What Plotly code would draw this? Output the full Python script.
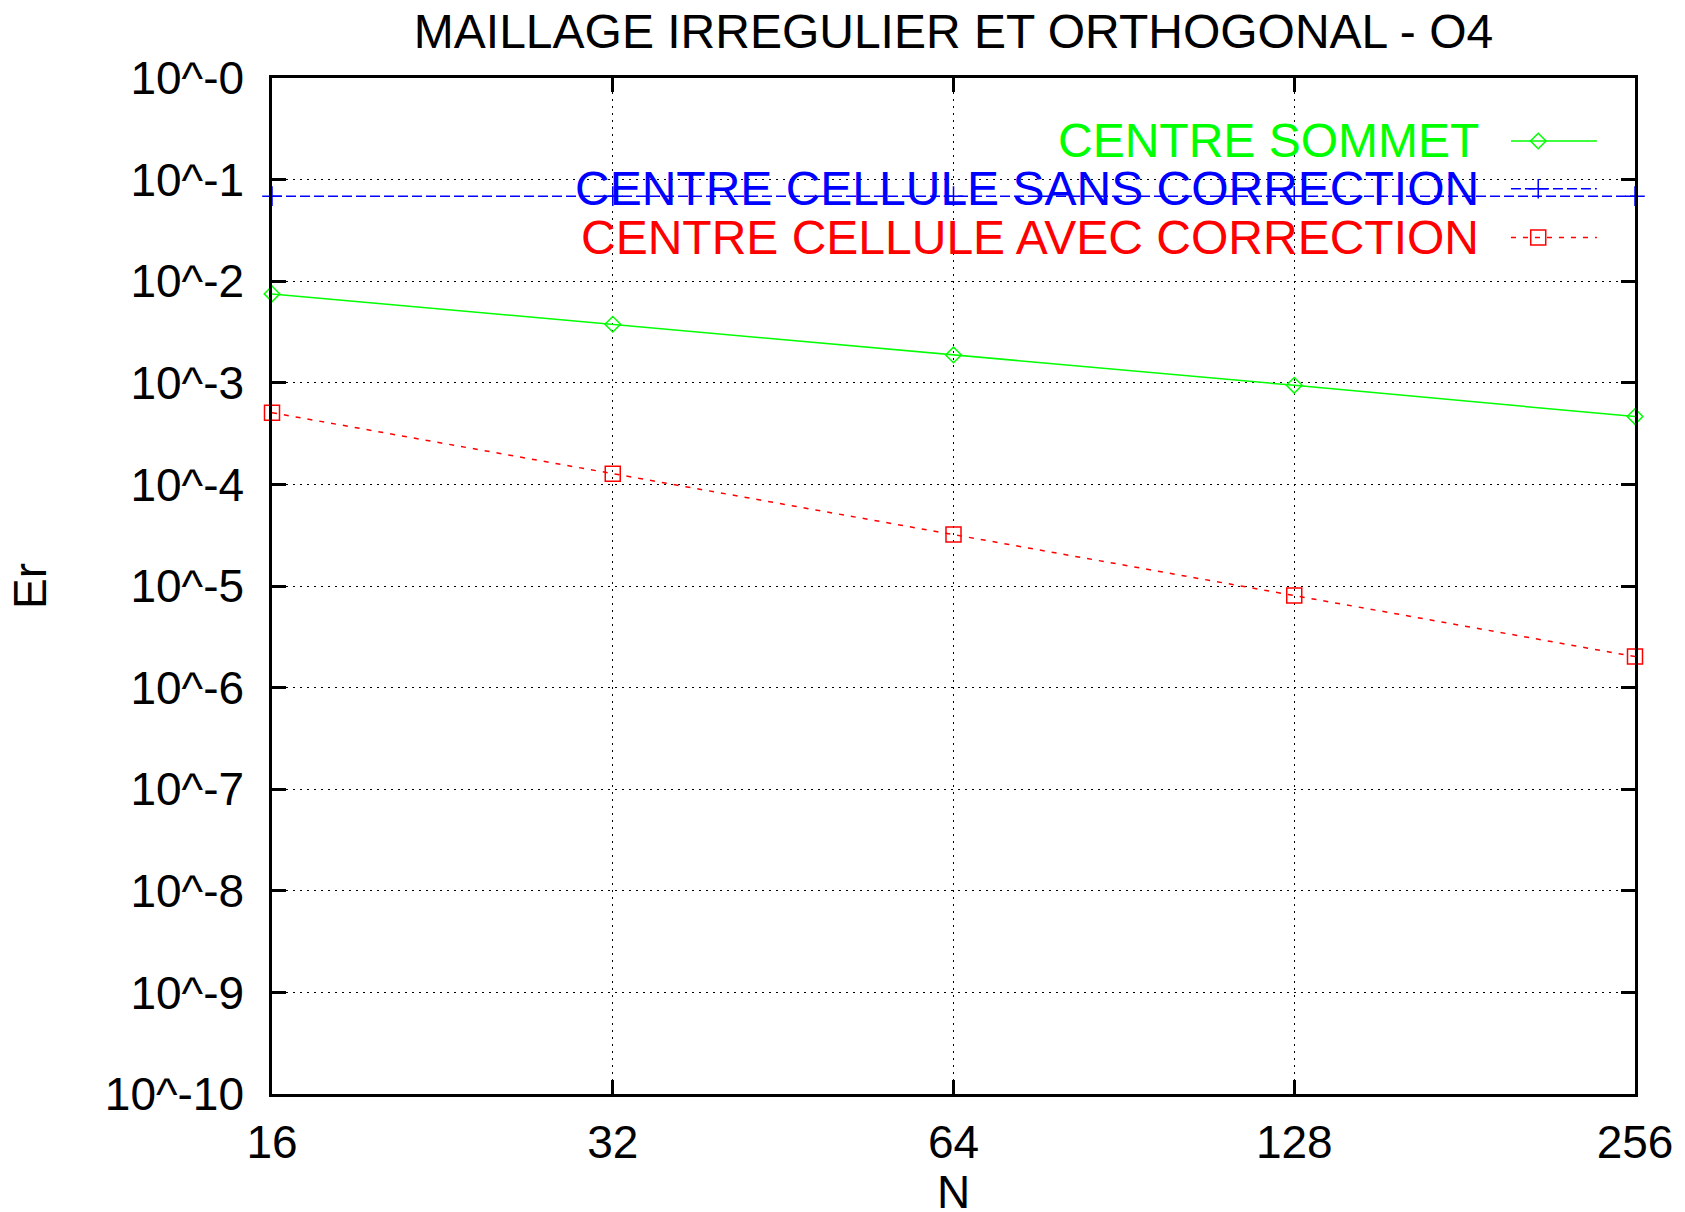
"""Convergence plot: error vs mesh size (irregular orthogonal mesh, O4)."""

import math

import plotly.graph_objects as go

# Data
n_values = [16, 32, 64, 128, 256]
err_centre_sommet = [0.0075, 0.00377, 0.00188, 0.000944, 0.000465]
err_cellule_sans = [0.0687, 0.0687, 0.0687, 0.0687, 0.0687]
err_cellule_avec = [0.000508, 0.000127, 3.21e-5, 8.05e-6, 2.02e-6]

y_tickvals = [10.0 ** -k for k in range(0, 11)]
y_ticktext = [f"10^-{k}" for k in range(0, 11)]
x_tickvals = n_values
x_ticktext = [str(n) for n in n_values]

labels = [
    "CENTRE SOMMET",
    "CENTRE CELLULE SANS CORRECTION",
    "CENTRE CELLULE AVEC CORRECTION",
]
colors = ["#00ff00", "#0000ff", "#ff0000"]
dashes = ["solid", "10px,4px", "5px,7px"]
symbols = ["diamond-open", "cross-thin-open", "square-open"]
marker_sizes = [12, 14, 15]

FONT = "Liberation Sans, Arial, sans-serif"

fig = go.Figure()

series = [err_centre_sommet, err_cellule_sans, err_cellule_avec]
for vals, color, dash, sym, msize in zip(series, colors, dashes, symbols, marker_sizes):
    fig.add_trace(go.Scatter(
        x=n_values,
        y=vals,
        mode="lines+markers",
        line=dict(color=color, width=1.5, dash=dash),
        marker=dict(symbol=sym, size=msize, color=color,
                    line=dict(color=color, width=1.5)),
        cliponaxis=False,
        showlegend=False,
    ))

# gnuplot-style key: text on the left, sample on the right
key_rows = [0.938, 0.891, 0.843]
for row, label, color, dash, sym, msize in zip(key_rows, labels, colors, dashes, symbols, marker_sizes):
    fig.add_trace(go.Scatter(
        x=[0.909, 0.972], y=[row, row], mode="lines",
        line=dict(color=color, width=1.5, dash=dash),
        xaxis="x2", yaxis="y2", showlegend=False, hoverinfo="skip",
    ))
    fig.add_trace(go.Scatter(
        x=[0.929], y=[row], mode="markers",
        marker=dict(symbol=sym, size=msize, color=color,
                    line=dict(color=color, width=1.5)),
        xaxis="x2", yaxis="y2", showlegend=False, hoverinfo="skip",
    ))
    fig.add_annotation(
        x=0.887, y=row, xref="paper", yref="paper",
        xanchor="right", yanchor="middle", showarrow=False,
        text=label, font=dict(family=FONT, size=48, color=color),
    )

axis_common = dict(
    showline=True, linecolor="black", linewidth=2.5, mirror="ticks",
    ticks="inside", ticklen=14, tickwidth=2.5, tickcolor="black",
    showgrid=True, gridcolor="black", gridwidth=1, griddash="2px,5px",
    zeroline=False,
    tickfont=dict(family=FONT, size=46, color="black"),
)

fig.update_layout(
    width=1685, height=1212,
    plot_bgcolor="white", paper_bgcolor="white",
    margin=dict(l=272, r=46, t=78, b=118),
    showlegend=False,
    title=dict(
        text="MAILLAGE IRREGULIER ET ORTHOGONAL - O4",
        x=0.5, xref="paper", y=1 - 31 / 1212, yref="container",
        xanchor="center", yanchor="middle",
        font=dict(family=FONT, size=48, color="black"),
    ),
    xaxis=dict(
        type="log",
        range=[math.log10(n_values[0]) - 1e-6, math.log10(n_values[-1]) + 1e-6],
        tickvals=x_tickvals, ticktext=x_ticktext,
        ticklabelstandoff=6,
        **axis_common,
    ),
    yaxis=dict(
        type="log", range=[-10, 0],
        tickvals=y_tickvals, ticktext=y_ticktext,
        ticklabelstandoff=16,
        **axis_common,
    ),
    xaxis2=dict(overlaying="x", range=[0, 1], visible=False),
    yaxis2=dict(overlaying="y", range=[0, 1], visible=False),
)

fig.add_annotation(
    x=-0.1776, y=0.5, xref="paper", yref="paper", textangle=-90,
    showarrow=False, text="Er", xanchor="center", yanchor="middle",
    font=dict(family=FONT, size=46, color="black"),
)
fig.add_annotation(
    x=0.5, y=-0.0966, xref="paper", yref="paper",
    showarrow=False, text="N", xanchor="center", yanchor="middle",
    font=dict(family=FONT, size=46, color="black"),
)

fig.write_html(
    "out.html",
    config={"displayModeBar": False},
    post_script="document.body.style.margin='0';",
)
